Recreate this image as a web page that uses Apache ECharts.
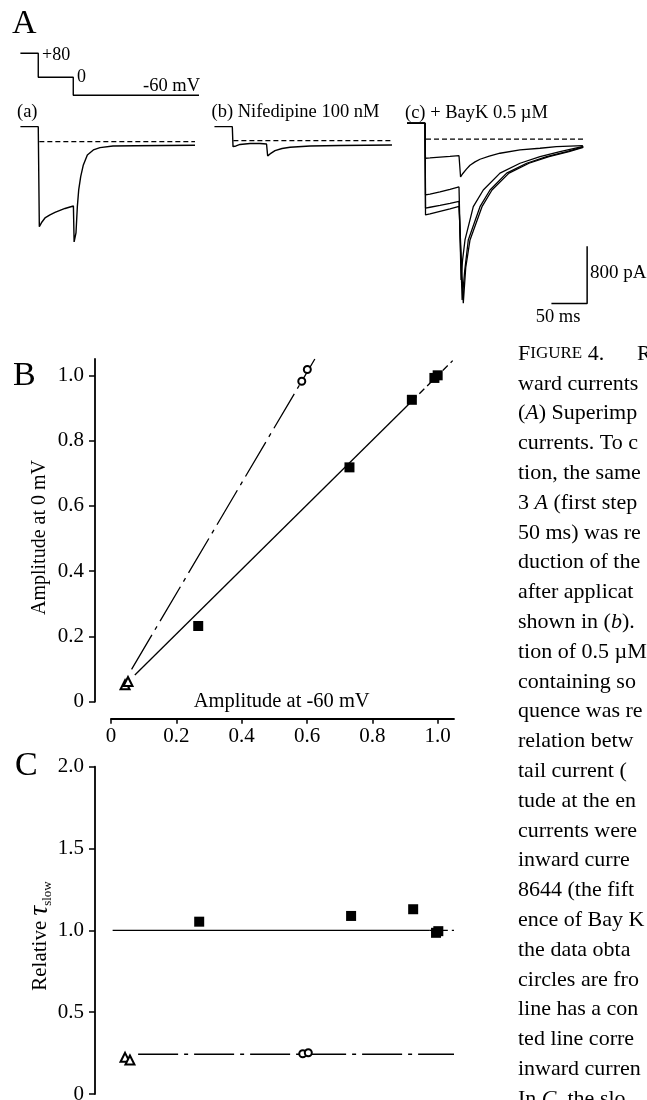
<!DOCTYPE html>
<html>
<head>
<meta charset="utf-8">
<script src="https://cdn.jsdelivr.net/npm/echarts@6/dist/echarts.min.js"></script>
<style>
html,body{margin:0;padding:0;background:#fff;}
#chart{width:647px;height:1100px;}
</style>
</head>
<body>
<div id="chart"></div>
<script>
// ---------- DATA ----------
// Panel A: voltage protocol (ms, mV)
const protocolT = [0, 25, 25, 74, 74, 250];
const protocolMV = [80, 80, 0, 0, -60, -60];
// Panel A: current traces [time ms, current pA]
const traceA = [[0,210],[25,210],[26.5,-1190],[30.2,-1124],[34.4,-1068],[41.4,-1026],[48.4,-991],[55.4,-963],[62.4,-935],[69.4,-914],[74.2,-900],[75.2,-1404],[77.8,-1278],[79.7,-910],[81.6,-676],[84.4,-490],[88.1,-326],[93.7,-186],[102.1,-116],[111.4,-84],[129.6,-60],[161,-57],[203,-53],[244.4,-50]];
const traceB = [[0,196],[25,196],[26,-84],[30.2,-74],[35.8,-53],[49.8,-39],[63.8,-39],[72.9,-46],[74.5,-214],[77.8,-186],[84.8,-140],[94.6,-109],[105.8,-92],[133.8,-74],[175.8,-67],[248.5,-60]];
const traceC1 = [[0,223],[25,223],[25.6,-267],[32,-263],[46,-252],[60,-242],[72.6,-231],[73.8,-231],[74.8,-529],[78,-480],[83,-420],[88,-365],[95,-318],[102,-281],[115,-236],[130,-197],[158,-151],[186,-127],[209,-105],[246,-91]];
const traceC2 = [[0,223],[25,223],[25.7,-781],[32,-770],[46,-739],[60,-704],[72.6,-669],[73.8,-669],[75.5,-1971],[77.5,-1700],[81,-1411],[92.6,-945],[106.6,-711],[130,-475],[158,-337],[186,-245],[214,-175],[246.6,-102]];
const traceC3 = [[0,223],[25,223],[25.7,-964],[32,-953],[46,-928],[60,-900],[72.6,-872],[73.8,-872],[77,-2251],[80.5,-1850],[85.6,-1411],[102,-945],[116,-711],[139.3,-475],[167.3,-337],[195.3,-245],[223.3,-175],[246.6,-109]];
const traceC4 = [[0,223],[25,223],[25.7,-1061],[32,-1047],[46,-1012],[60,-977],[72.6,-942],[73.8,-942],[78.6,-2297],[82,-1800],[88,-1411],[104.8,-945],[118.8,-711],[142.6,-475],[170.6,-337],[198.6,-245],[226.6,-175],[246.6,-116]];
const zeroA = [[26.5,0],[244.4,0]];
const zeroB = [[26.5,0],[249,0]];
const zeroC = [[26.4,0],[249,0]];
const scaleBar = [[252,-1500],[252,-2300],[202,-2300]]; // 800 pA, 50 ms

// Panel B
const bSquares = [[0.267,0.232],[0.73,0.718],[0.921,0.925],[0.99,0.992],[1.0,1.0]];
const bCircles = [[0.584,0.982],[0.601,1.018]];
const bTriangles = [[0.043,0.052],[0.052,0.062]];
const bFitSolid = [[0.073,0.082],[0.92,0.92]];
const bFitSolidExt = [[0.92,0.92],[1.046,1.045]];
const bFitDashDot = [[0.063,0.099],[0.624,1.05]];
const bTickVals = [0,0.2,0.4,0.6,0.8,1.0];
const bTickLabels = ['0','0.2','0.4','0.6','0.8','1.0'];

// Panel C
const cSquares = [[0.27,1.053],[0.735,1.088],[0.925,1.129],[0.995,0.985],[1.002,0.995]];
const cCircles = [[0.587,0.246],[0.604,0.252]];
const cTriangles = [[0.043,0.224],[0.058,0.208]];
const cMeanSolid = [[0.005,1.0],[0.976,1.0]];
const cMeanExt = [[0.976,1.0],[1.05,1.0]];
const cMeanDashDot = [[0.083,0.243],[1.05,0.243]];
const cTickVals = [0,0.5,1.0,1.5,2.0];
const cTickLabels = ['0','0.5','1.0','1.5','2.0'];

const captionLines = [
  null,
  'ward currents',
  '({i|A}) Superimp',
  'currents. To c',
  'tion, the same',
  '3 {i|A} (first step',
  '50 ms) was re',
  'duction of the',
  'after applicat',
  'shown in ({i|b}).',
  'tion of 0.5 µM',
  'containing so',
  'quence was re',
  'relation betw',
  'tail current (',
  'tude at the en',
  'currents were',
  'inward curre',
  '8644 (the fift',
  'ence of Bay K',
  'the data obta',
  'circles are fro',
  'line has a con',
  'ted line corre',
  'inward curren',
  'In {i|C}, the slo'
];

// ---------- CHART ----------
const FONT = 'Liberation Serif';
const BLACK = '#000';
const chart = echarts.init(document.getElementById('chart'), null, {renderer:'canvas'});

const protoV = protocolT.map((t,i)=>[t, protocolMV[i]]);

function hiddenX(gi, max){ return {gridIndex:gi, type:'value', min:0, max:max, show:false}; }
function hiddenY(gi, min, max){ return {gridIndex:gi, type:'value', min:min, max:max, show:false}; }

function lineS(xi, yi, data, width, dash){
  return {type:'line', xAxisIndex:xi, yAxisIndex:yi, data:data, showSymbol:false, symbol:'none',
    lineStyle:{color:BLACK, width:width||1.3, type: dash||'solid', opacity:1}, silent:true, animation:false, clip:false, z:2};
}
function scatterS(xi, yi, data, symbol, size){
  return {type:'scatter', xAxisIndex:xi, yAxisIndex:yi, data:data, symbol:symbol, symbolSize:size,
    itemStyle:{color:BLACK, borderColor:BLACK, opacity:1, borderWidth: symbol==='rect'?0:1.2}, silent:true, animation:false, clip:false, z:5};
}

const axisLabelStyle = {color:BLACK, fontFamily:FONT, fontSize:21};

function txt(x, y, text, size, align, extra){
  return Object.assign({type:'text', x:x, y:y, silent:true,
    style:Object.assign({text:text, fill:BLACK, fontFamily:FONT, fontSize:size, align:align||'left', verticalAlign:'middle'}, (extra&&extra.style)||{})},
    extra && extra.rotation!==undefined ? {rotation:extra.rotation} : {});
}

const graphics = [
  txt(12, 24, 'A', 34),
  txt(13, 376.5, 'B', 34),
  txt(15, 766, 'C', 34),
  txt(42, 55.5, '+80', 18),
  txt(77, 77, '0', 18),
  txt(200, 86.5, '-60 mV', 18.5, 'right'),
  txt(17, 112.5, '(a)', 18.5),
  txt(211.5, 112.5, '(b) Nifedipine 100 nM', 18.5),
  txt(405, 113, '(c) + BayK 0.5 µM', 18.5),
  txt(590, 273, '800 pA', 19),
  txt(558, 317, '50 ms', 18.5, 'center'),
  txt(281.7, 702, 'Amplitude at -60 mV', 20.5, 'center'),
  txt(39.5, 537.5, 'Amplitude at 0 mV', 20, 'center', {rotation:Math.PI/2}),
  {type:'text', x:40, y:936, rotation:Math.PI/2, silent:true,
   style:{text:'{r|Relative }{t|τ}{s|slow}', fill:BLACK, fontFamily:FONT, align:'center', verticalAlign:'middle',
     rich:{ r:{fontFamily:FONT, fontSize:21, lineHeight:28, fill:BLACK},
            t:{fontFamily:FONT, fontSize:27, lineHeight:28, fill:BLACK, fontStyle:'italic'},
            s:{fontFamily:FONT, fontSize:13, lineHeight:16, verticalAlign:'bottom', fill:BLACK} }}}
];

// caption
const capX = 518, capY0 = 354, capDY = 29.8, capSize = 22;
const capRich = { i:{fontFamily:FONT, fontSize:capSize, fontStyle:'italic', fill:BLACK},
                  b:{fontFamily:FONT, fontSize:capSize, fill:BLACK},
                  c:{fontFamily:FONT, fontSize:17, fill:BLACK} };
captionLines.forEach((line, k) => {
  const text = (k === 0) ? '{b|F}{c|IGURE}{b| 4.}' : line;
  graphics.push({type:'text', x:capX, y:capY0 + k*capDY, silent:true,
    style:{text:text, fill:BLACK, fontFamily:FONT, fontSize:capSize, align:'left', verticalAlign:'middle', rich:capRich}});
});
graphics.push(txt(637, capY0, 'R', capSize));

const option = {
  backgroundColor:'#fff',
  animation:false,
  textStyle:{fontFamily:FONT},
  grid:[
    {left:20.4, top:47.3, width:178.6, height:60, outerBoundsMode:'none', containLabel:false},
    {left:20.4, top:113.1, width:178.6, height:214.3, outerBoundsMode:'none', containLabel:false},
    {left:214.45, top:112.1, width:178.6, height:214.3, outerBoundsMode:'none', containLabel:false},
    {left:407.15, top:110.6, width:185.7, height:214.3, outerBoundsMode:'none', containLabel:false},
    {left:111, top:359, width:343, height:342.7, outerBoundsMode:'none', containLabel:false},
    {left:111, top:766.7, width:343, height:327.3, outerBoundsMode:'none', containLabel:false}
  ],
  xAxis:[
    hiddenX(0,250), hiddenX(1,250), hiddenX(2,250), hiddenX(3,260),
    {gridIndex:4, type:'value', min:0, max:1.05, offset:17, position:'bottom',
     axisLine:{show:true, onZero:false, lineStyle:{color:BLACK, width:1.8}},
     axisTick:{show:true, inside:false, length:5, lineStyle:{color:BLACK, width:1.5}, customValues:bTickVals},
     axisLabel:{show:true, margin:7, customValues:bTickVals, formatter:(v)=>{const i=bTickVals.findIndex(t=>Math.abs(t-v)<1e-6); return i>=0?bTickLabels[i]:'';}, ...axisLabelStyle},
     splitLine:{show:false}},
    {gridIndex:5, type:'value', min:0, max:1.05, show:false}
  ],
  yAxis:[
    hiddenY(0,-100,100), hiddenY(1,-2600,400), hiddenY(2,-2600,400), hiddenY(3,-2600,400),
    {gridIndex:4, type:'value', min:0, max:1.05, offset:16, position:'left',
     axisLine:{show:true, onZero:false, lineStyle:{color:BLACK, width:1.8}},
     axisTick:{show:true, inside:false, length:6, lineStyle:{color:BLACK, width:1.5}, customValues:bTickVals},
     axisLabel:{show:true, margin:11, customValues:bTickVals, formatter:(v)=>{const i=bTickVals.findIndex(t=>Math.abs(t-v)<1e-6); return i>=0?bTickLabels[i]:'';}, ...axisLabelStyle},
     splitLine:{show:false}},
    {gridIndex:5, type:'value', min:0, max:2.0, offset:16, position:'left',
     axisLine:{show:true, onZero:false, lineStyle:{color:BLACK, width:1.8}},
     axisTick:{show:true, inside:false, length:6, lineStyle:{color:BLACK, width:1.5}, customValues:cTickVals},
     axisLabel:{show:true, margin:11, customValues:cTickVals, formatter:(v)=>{const i=cTickVals.findIndex(t=>Math.abs(t-v)<1e-6); return i>=0?cTickLabels[i]:'';}, ...axisLabelStyle},
     splitLine:{show:false}}
  ],
  graphic: graphics,
  series:[
    lineS(0,0, protoV, 1.4),
    lineS(1,1, traceA, 1.4),
    lineS(1,1, zeroA, 1.3, [5,3]),
    lineS(2,2, traceB, 1.4),
    lineS(2,2, zeroB, 1.3, [5,3]),
    lineS(3,3, traceC1, 1.3),
    lineS(3,3, traceC2, 1.3),
    lineS(3,3, traceC3, 1.3),
    lineS(3,3, traceC4, 1.3),
    lineS(3,3, zeroC, 1.3, [5,3]),
    lineS(3,3, scaleBar, 1.5),
    // Panel B
    lineS(4,4, bFitSolid, 1.3),
    lineS(4,4, bFitSolidExt, 1.3, [7,4]),
    lineS(4,4, bFitDashDot, 1.3, [40,6,4,6]),
    scatterS(4,4, bSquares, 'rect', 10),
    scatterS(4,4, bCircles, 'emptyCircle', 7),
    scatterS(4,4, bTriangles, 'emptyTriangle', 9),
    // Panel C
    lineS(5,5, cMeanSolid, 1.3),
    lineS(5,5, cMeanExt, 1.3, [7,4]),
    lineS(5,5, cMeanDashDot, 1.3, [40,6,4,6]),
    scatterS(5,5, cSquares, 'rect', 10),
    scatterS(5,5, cCircles, 'emptyCircle', 7),
    scatterS(5,5, cTriangles, 'emptyTriangle', 9)
  ]
};
chart.setOption(option);
</script>
</body>
</html>
